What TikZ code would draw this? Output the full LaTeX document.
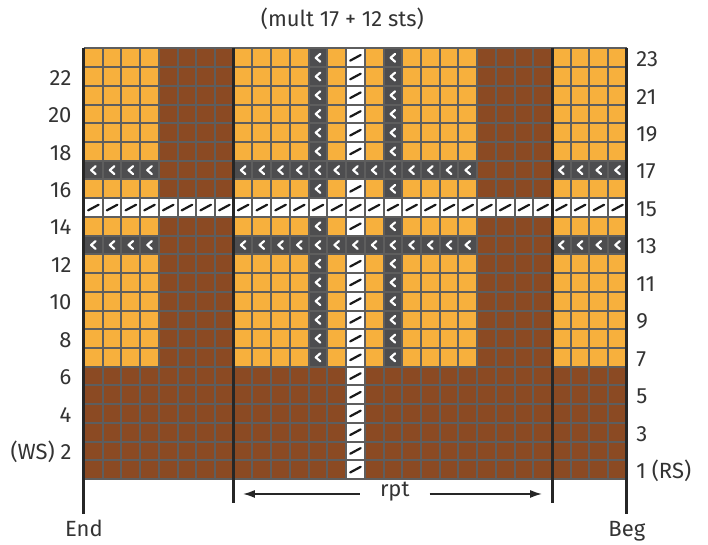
\documentclass[tikz,border=0pt]{standalone}
\usepackage{fontspec}
\setmainfont{Fira Sans}
\usetikzlibrary{arrows.meta}
\definecolor{Amber}{HTML}{F7B03D}
\definecolor{Rust}{HTML}{8B4A23}
\definecolor{Slate}{HTML}{4D4D4F}
\definecolor{Grid}{HTML}{5E5E5E}
\definecolor{Ink}{HTML}{333333}
\newcommand{\decmark}[2]{\draw[decline] (#1+0.62,#2-0.29) -- (#1+0.38,#2-0.5) -- (#1+0.62,#2-0.71);}
\newcommand{\slashmark}[2]{\draw[knitline] (#1+0.22,#2-0.65) -- (#1+0.78,#2-0.35);}
\begin{document}
\begin{tikzpicture}[x=18.72pt,y=18.72pt,font=\fontsize{22}{26}\selectfont,text=Ink,gridline/.style={draw=Grid,line width=2pt,step=1},border/.style={draw=black!85,line width=3pt},decline/.style={draw=white,line width=2.2pt,line cap=round,line join=round},knitline/.style={draw=black!90,line width=2.2pt,line cap=round},arrow/.style={-{Latex[length=12pt,width=8pt]},line width=1.6pt,draw=black!85},lbl/.style={inner sep=0pt}]
\useasboundingbox (-4.487,-3.472) rectangle (33.333,25.588);
% cell colours
\fill[Rust] (0,0) rectangle (29,23);
\foreach \a/\b in {0/4,8/21,25/29}{\fill[Amber] (\a,6) rectangle (\b,23);}
\fill[white] (14,0) rectangle (15,23);
\fill[Slate] (12,6) rectangle (13,23) (16,6) rectangle (17,23);
\foreach \a/\b in {0/4,8/21,25/29}{\fill[Slate] (\a,12) rectangle (\b,13) (\a,16) rectangle (\b,17);}
\fill[white] (0,14) rectangle (29,15);
\draw[gridline] (0,0) grid (29,23);
% stitch symbols
\foreach \r in {7,...,14,16,17,...,23}{\decmark{12}{\r}\decmark{16}{\r}}
\foreach \c in {0,...,3,8,9,10,11,13,14,15,17,18,19,20,25,26,27,28}{\decmark{\c}{13}\decmark{\c}{17}}
\foreach \r in {1,...,12,14,16,18,19,20,21,22,23}{\slashmark{14}{\r}}
\foreach \c in {0,...,28}{\slashmark{\c}{15}}
% edges and repeat
\draw[border] (0,23) -- (0,-1.87) (29,23) -- (29,-1.87) (8,23) -- (8,-1.28) (25,23) -- (25,-1.28);
\node[lbl,anchor=base] (title) at (13.8,24.16){(mult 17 + 12 sts)};
\foreach \r in {4,6,...,22}{\node[lbl,anchor=base east] (ws\r) at (-0.66,\r-0.96){\r};}
\node[lbl,anchor=base east] (ws2) at (-0.66,1.04){(WS) 2};
\foreach \r in {3,5,...,23}{\node[lbl,anchor=base west] (rs\r) at (29.5,\r-0.97){\r};}
\node[lbl,anchor=base west] (rs1) at (29.5,0.03){1 (RS)};
\node[lbl,anchor=base] (endlbl) at (0,-3.08){End};
\node[lbl,anchor=base] (beglbl) at (29,-3.08){Beg};
\node[inner xsep=20pt,inner ysep=0pt,anchor=mid] (rpt) at (16.6,-0.8){rpt};
\coordinate (rptleft) at (8.49,-0.8);
\coordinate (rptright) at (24.47,-0.8);
\draw[arrow] (rpt.mid west) -- (rptleft);
\draw[arrow] (rpt.mid east) -- (rptright);
\end{tikzpicture}
\end{document}
